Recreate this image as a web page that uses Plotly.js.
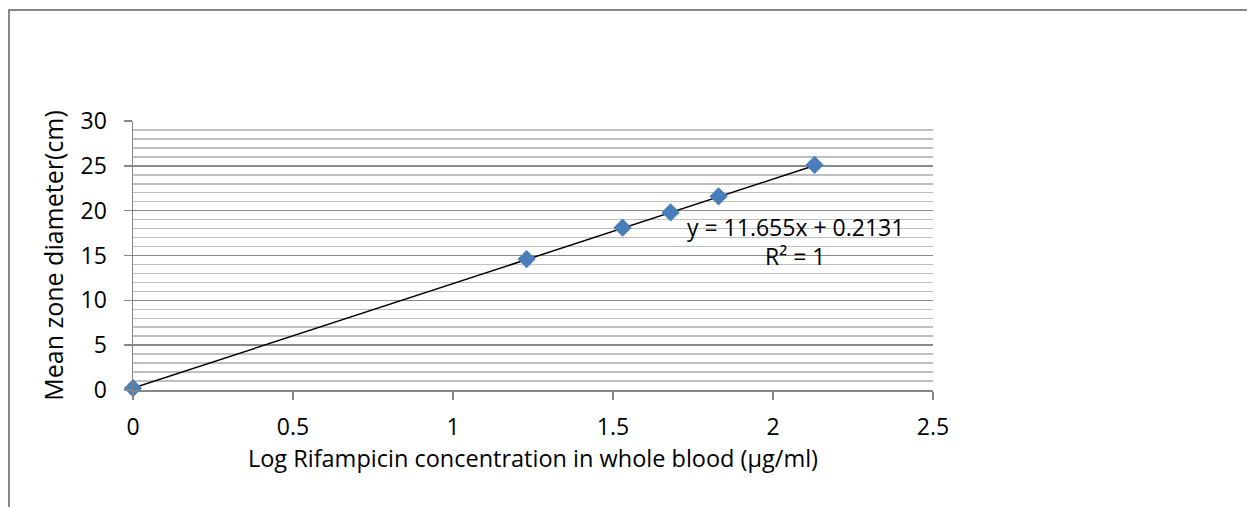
<!DOCTYPE html>
<html>
<head>
<meta charset="utf-8">
<script src="https://cdn.plot.ly/plotly-3.0.1.min.js"></script>
<style>
html,body{margin:0;padding:0;background:#fff;overflow:hidden;}
#frame{position:absolute;left:8px;top:9px;width:1400px;height:700px;border-left:2px solid #878787;border-top:2px solid #878787;}
#chart{position:absolute;left:0;top:0;width:1247px;height:507px;}
</style>
</head>
<body>
<div id="frame"></div>
<div id="chart"></div>
<script>
// Data
var logConc = [0, 1.23, 1.53, 1.68, 1.83, 2.13];
var zoneDiameter = [0.2, 14.6, 18.1, 19.8, 21.6, 25.1];
var slope = 11.655;
var intercept = 0.2131;
var equationText = "y = 11.655x + 0.2131";
var r2Text = "R² = 1";
var xTickVals = [0, 0.5, 1, 1.5, 2, 2.5];
var yTickVals = [0, 5, 10, 15, 20, 25, 30];

var trendX = [logConc[0], logConc[logConc.length - 1]];
var trendY = trendX.map(function (x) { return slope * x + intercept; });

var font = "Open Sans, Noto Sans, sans-serif";
var fs = 23;

var data = [
  {
    x: trendX, y: trendY, mode: "lines", type: "scatter",
    line: {color: "#000000", width: 1.5}, hoverinfo: "skip", showlegend: false
  },
  {
    x: logConc, y: zoneDiameter, mode: "markers", type: "scatter",
    marker: {symbol: "diamond", size: 14, color: "#4a7ebb", line: {width: 0}},
    showlegend: false, cliponaxis: false
  }
];

var layout = {
  width: 1247, height: 507,
  paper_bgcolor: "rgba(0,0,0,0)", plot_bgcolor: "rgba(0,0,0,0)",
  margin: {l: 133, r: 314, t: 121, b: 117},
  font: {family: font, size: fs, color: "#000"},
  showlegend: false,
  xaxis: {
    range: [0, 2.5], tickvals: xTickVals, ticktext: xTickVals.map(String),
    showgrid: false, zeroline: false,
    showline: true, linecolor: "#868686", linewidth: 1.5,
    ticks: "outside", ticklen: 8, tickcolor: "#868686", tickwidth: 1.5,
    ticklabelstandoff: 8,
    tickfont: {family: font, size: fs}, fixedrange: true,
    title: {text: "Log Rifampicin concentration in whole blood (µg/ml)", font: {family: font, size: 23.5}, standoff: 6}
  },
  yaxis: {
    range: [0, 30], tickvals: yTickVals, ticktext: yTickVals.map(String),
    showgrid: true, gridcolor: "#8a8a8a", gridwidth: 1.5,
    minor: {dtick: 1, tick0: 0, showgrid: true, gridcolor: "#bfbfbf", gridwidth: 1.5},
    zeroline: false,
    showline: true, linecolor: "#868686", linewidth: 1.5,
    ticks: "outside", ticklen: 8, tickcolor: "#868686", tickwidth: 1.5,
    ticklabelstandoff: 12,
    tickfont: {family: font, size: fs}, fixedrange: true,
    title: {text: "Mean zone diameter(cm)", font: {family: font, size: 25}, standoff: 10}
  },
  annotations: [
    {x: 2.07, y: 18.15, xref: "x", yref: "y", text: equationText, showarrow: false,
     font: {family: font, size: fs, color: "#000"}, xanchor: "center", yanchor: "middle"},
    {x: 2.068, y: 14.9, xref: "x", yref: "y", text: r2Text, showarrow: false,
     font: {family: font, size: fs, color: "#000"}, xanchor: "center", yanchor: "middle"}
  ]
};

Plotly.newPlot("chart", data, layout, {displayModeBar: false, staticPlot: true});
</script>
</body>
</html>
